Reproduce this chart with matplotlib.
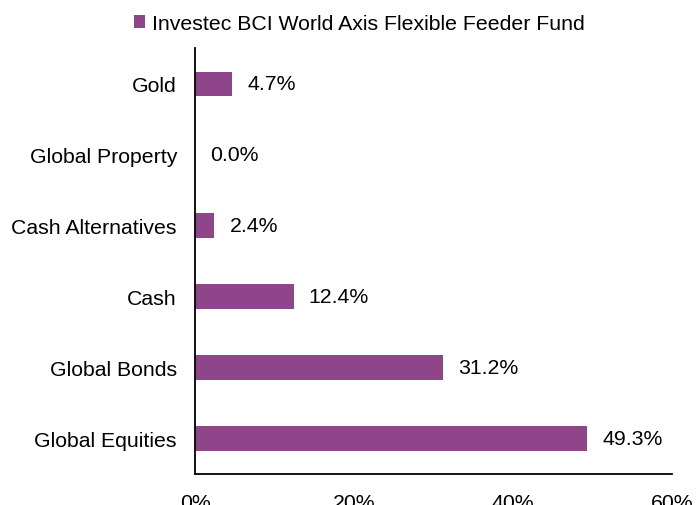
import matplotlib.pyplot as plt

categories = ['Global Equities', 'Global Bonds', 'Cash', 'Cash Alternatives',
              'Global Property', 'Gold']
values = [49.3, 31.2, 12.4, 2.4, 0.0, 4.7]
xticks = [0, 20, 40, 60]
series_name = 'Investec BCI World Axis Flexible Feeder Fund'

plt.rcParams['font.family'] = ['Liberation Sans', 'DejaVu Sans']
color = '#8E4589'
fs = 15.3

fig = plt.figure(figsize=(6.96, 5.06), dpi=100)
ax = fig.add_axes([0.2802, 0.0613, 0.6853, 0.8417])

bars = ax.barh(range(len(categories)), values, height=0.34, color=color,
               label=series_name)
for i, v in enumerate(values):
    ax.annotate('%.1f%%' % v, (v, i), xytext=(11, 0), textcoords='offset points',
                ha='left', va='center', fontsize=fs)

ax.set_xlim(0, 60)
ax.set_ylim(-0.5, 5.5)
ax.set_yticks(range(len(categories)))
ax.set_yticklabels(categories, fontsize=fs)
ax.set_xticks(xticks)
ax.set_xticklabels(['%d%%' % t for t in xticks], fontsize=fs)
ax.tick_params(axis='x', length=0, pad=14)
ax.tick_params(axis='y', length=0, pad=13)
for s in ['top', 'right']:
    ax.spines[s].set_visible(False)
for s in ['left', 'bottom']:
    ax.spines[s].set_linewidth(1.3)

fig.legend(handles=[bars], labels=[series_name], loc='center',
           bbox_to_anchor=(0.516, 0.951), frameon=False, fontsize=fs,
           handlelength=0.55, handleheight=0.55, handletextpad=0.3)

fig.savefig('out.png', dpi=100)
